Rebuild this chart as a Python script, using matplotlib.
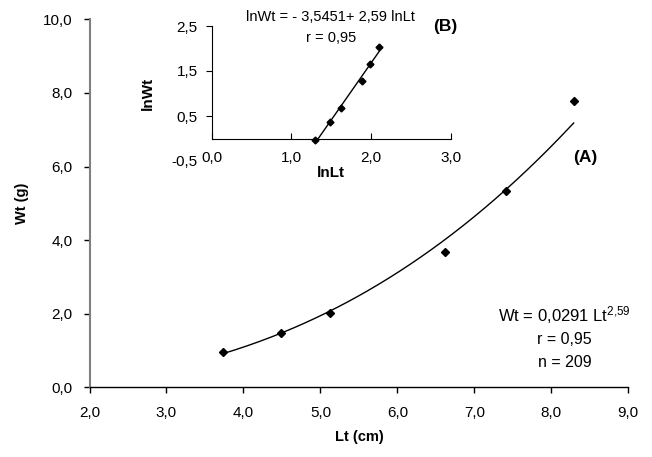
import matplotlib
matplotlib.use("Agg")
import matplotlib.pyplot as plt
import numpy as np

plt.rcParams["font.family"] = ["Liberation Sans", "DejaVu Sans"]
plt.rcParams["mathtext.fontset"] = "custom"
plt.rcParams["mathtext.rm"] = "Liberation Sans"
plt.rcParams["mathtext.it"] = "Liberation Sans"

# mean weight by length class
lt_cm = [3.74, 4.49, 5.12, 6.62, 7.41, 8.29]
wt_g = [0.96, 1.47, 2.01, 3.68, 5.34, 7.78]

# log-transformed values (inset B)
ln_lt = [1.30, 1.48, 1.62, 1.89, 1.99, 2.10]
ln_wt = [-0.04, 0.37, 0.68, 1.28, 1.66, 2.04]

main_xticks = [2, 3, 4, 5, 6, 7, 8, 9]
main_yticks = [0, 2, 4, 6, 8, 10]
inset_xticks = [0, 1, 2, 3]
inset_yticks = [-0.5, 0.5, 1.5, 2.5]


def comma(v, nd=1):
    return f"{v:.{nd}f}".replace(".", ",")


fig = plt.figure(figsize=(6.52, 4.57), dpi=100)
ax = fig.add_axes([89.5 / 652, 1 - 387.3 / 457, 538.8 / 652, 368.0 / 457])

# power trendline fitted in log space
b, a = np.polyfit(np.log(lt_cm), np.log(wt_g), 1)
xs = np.linspace(min(lt_cm), max(lt_cm), 200)
ax.plot(xs, np.exp(a) * xs ** b, color="black", lw=1.0)
ax.plot(lt_cm, wt_g, "D", color="black", ms=4)

ax.set_xlim(2, 9)
ax.set_ylim(0, 10)
ax.set_xticks(main_xticks)
ax.set_xticklabels([comma(v) for v in main_xticks])
ax.set_yticks(main_yticks)
ax.set_yticklabels([comma(v) for v in main_yticks])
for s in ["top", "right"]:
    ax.spines[s].set_visible(False)
ax.spines["left"].set_color("#808080")
ax.spines["left"].set_linewidth(1.5)
ax.spines["bottom"].set_linewidth(1.0)
ax.tick_params(axis="both", direction="out", length=4, width=1.0, labelsize=11)
ax.tick_params(axis="x", pad=9.5)
ax.tick_params(axis="y", pad=8)
ax.set_xlabel("Lt (cm)", fontsize=10.5, fontweight="bold", labelpad=7)
ax.set_ylabel("Wt (g)", fontsize=10.5, fontweight="bold", labelpad=10)

ax.text(1.005, 0.195, r"Wt = 0,0291 Lt$^{2{,}59}$", transform=ax.transAxes,
        ha="right", va="center", fontsize=12)
ax.text(0.882, 0.13, "r = 0,95", transform=ax.transAxes, ha="center", va="center", fontsize=11.5)
ax.text(0.882, 0.068, "n = 209", transform=ax.transAxes, ha="center", va="center", fontsize=11.5)
ax.text(0.92, 0.625, "(A)", transform=ax.transAxes, ha="center", va="center",
        fontsize=12.5, fontweight="bold")

# inset B
ins = fig.add_axes([211.7 / 652, 1 - 161 / 457, 239.3 / 652, 135 / 457])
bl, al = np.polyfit(ln_lt, ln_wt, 1)
xl = np.array([min(ln_lt) + 0.03, max(ln_lt)])
ins.plot(xl, al + bl * xl, color="black", lw=1.0)
ins.plot(ln_lt, ln_wt, "D", color="black", ms=3.5)
ins.set_xlim(0, 3)
ins.set_ylim(-0.5, 2.5)
ins.set_xticks(inset_xticks)
ins.set_xticklabels([comma(v) for v in inset_xticks])
ins.set_yticks(inset_yticks)
ins.set_yticklabels([comma(v) for v in inset_yticks])
for s in ["top", "right"]:
    ins.spines[s].set_visible(False)
ins.spines["bottom"].set_position(("data", 0))
ins.spines["left"].set_bounds(0, 2.5)
ins.patch.set_alpha(0)
ins.tick_params(axis="x", direction="in", length=4, labelsize=11, pad=9)
ins.tick_params(axis="y", direction="out", length=4, labelsize=11, pad=6)
ins.yaxis.get_major_ticks()[0].tick1line.set_visible(False)
ins.set_xlabel("lnLt", fontsize=11, fontweight="bold", labelpad=1)
ins.set_ylabel("lnWt", fontsize=11, fontweight="bold", labelpad=12)
ins.text(0.495, 1.067, "lnWt = - 3,5451+ 2,59 lnLt", transform=ins.transAxes,
         ha="center", va="center", fontsize=10.5)
ins.text(0.5, 0.911, "r = 0,95", transform=ins.transAxes, ha="center", va="center", fontsize=10.5)
ins.text(0.975, 1.0, "(B)", transform=ins.transAxes, ha="center", va="center",
         fontsize=12.5, fontweight="bold")

fig.savefig("out.png", dpi=100)
